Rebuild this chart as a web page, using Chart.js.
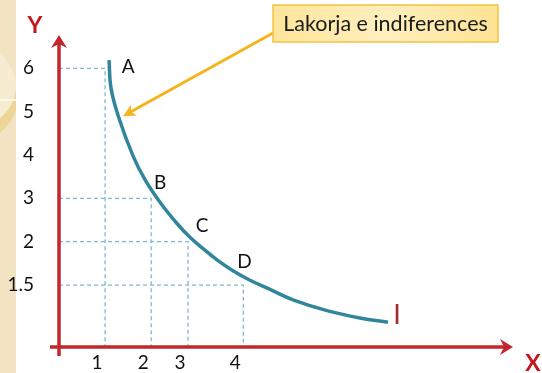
<!DOCTYPE html>
<html>
<head>
<meta charset="utf-8">
<script src="https://cdn.jsdelivr.net/npm/chart.js@4.4.0/dist/chart.umd.min.js"></script>
<style>
  html, body { margin: 0; padding: 0; background: #fff; }
  #wrap { width: 542px; height: 373px; }
</style>
</head>
<body>
<div id="wrap"><canvas id="curveChart"></canvas></div>
<script>
// valeurs (positions sur les axes dessinés)
const xTickLabels = ['1', '2', '3', '4'];
const xTickPos = [1, 2, 2.8, 4];
const yTickLabels = ['6', '5', '4', '3', '2', '1.5'];
const yTickPos = [6, 5, 4, 3, 2, 1];

// points A, B, C, D
const pointNames = ['A', 'B', 'C', 'D'];
const pointX = [1, 2, 2.8, 4];
const pointY = [6, 3, 2, 1];

// courbe d'indifférence I
const curveX = [1.085, 1.128, 1.28, 1.606, 1.866, 2.191, 2.56, 2.842, 3.059, 3.428, 3.775, 4.144, 4.578, 5.077, 5.815, 6.531, 7.138];
const curveY = [6.19, 5.55, 4.92, 3.98, 3.43, 2.91, 2.42, 2.10, 1.90, 1.58, 1.33, 1.11, 0.90, 0.66, 0.41, 0.24, 0.14];

const xMin = 0, xMax = 9.85;
const yMin = -0.43, yMax = 6.77;

const red = '#c1272d';
const teal = '#31869b';
const dashColor = '#7dbccc';

const datasets = [];

// lignes pointillées vers les axes
pointX.forEach(function (px, i) {
    datasets.push({
        data: [{ x: xMin, y: pointY[i] }, { x: px, y: pointY[i] }, { x: px, y: yMin }],
        showLine: true,
        borderColor: dashColor,
        borderWidth: 1.3,
        borderDash: [4, 3],
        pointRadius: 0,
        fill: false,
        clip: false,
    });
});

datasets.push({
    data: curveX.map(function (x, i) { return { x: x, y: curveY[i] }; }),
    showLine: true,
    borderColor: teal,
    borderWidth: 3.5,
    pointRadius: 0,
    tension: 0.4,
    borderCapStyle: 'butt',
    fill: false,
    clip: false,
});

const decorPlugin = {
    id: 'decor',
    beforeDraw: function (chart) {
        const ctx = chart.ctx;
        ctx.save();
        ctx.fillStyle = '#ffffff';
        ctx.fillRect(0, 0, chart.width, chart.height);
        // bande beige à gauche
        ctx.fillStyle = '#f2e4c2';
        ctx.fillRect(0, 0, 16, chart.height);
        ctx.beginPath();
        ctx.rect(0, 0, 16, chart.height);
        ctx.clip();
        ctx.fillStyle = '#ecd596';
        ctx.beginPath();
        ctx.ellipse(-40, 98, 58, 48, 0, 0, Math.PI * 2);
        ctx.fill();
        ctx.fillStyle = '#f6ecd2';
        ctx.beginPath();
        ctx.ellipse(-40, 86, 56, 46, 0, 0, Math.PI * 2);
        ctx.fill();
        ctx.strokeStyle = '#fbf6ea';
        ctx.lineWidth = 2;
        ctx.beginPath();
        ctx.moveTo(0, 100);
        ctx.lineTo(16, 100);
        ctx.stroke();
        ctx.restore();
    },
    afterDatasetsDraw: function (chart) {
        const ctx = chart.ctx;
        const xs = chart.scales.x;
        const ys = chart.scales.y;
        const x0 = xs.getPixelForValue(xMin);
        const y0 = ys.getPixelForValue(yMin);
        const xEnd = xs.getPixelForValue(xMax);
        const yTop = ys.getPixelForValue(yMax);
        ctx.save();

        // axes
        ctx.strokeStyle = red;
        ctx.fillStyle = red;
        ctx.lineWidth = 3.5;
        ctx.beginPath();
        ctx.moveTo(x0, y0 + 9);
        ctx.lineTo(x0, yTop + 6);
        ctx.moveTo(x0 - 9, y0);
        ctx.lineTo(xEnd - 6, y0);
        ctx.stroke();
        ctx.beginPath();
        ctx.moveTo(x0, yTop);
        ctx.lineTo(x0 - 8, yTop + 13);
        ctx.lineTo(x0, yTop + 9);
        ctx.lineTo(x0 + 8, yTop + 13);
        ctx.closePath();
        ctx.fill();
        ctx.beginPath();
        ctx.moveTo(xEnd, y0);
        ctx.lineTo(xEnd - 13, y0 - 8);
        ctx.lineTo(xEnd - 9, y0);
        ctx.lineTo(xEnd - 13, y0 + 8);
        ctx.closePath();
        ctx.fill();

        // étiquettes des graduations
        ctx.fillStyle = '#111111';
        ctx.font = '19px Lato';
        ctx.textBaseline = 'middle';
        ctx.textAlign = 'right';
        yTickPos.forEach(function (v, i) {
            ctx.fillText(yTickLabels[i], 34, ys.getPixelForValue(v));
        });
        ctx.textAlign = 'center';
        xTickPos.forEach(function (v, i) {
            ctx.fillText(xTickLabels[i], xs.getPixelForValue(v) - 8, y0 + 16);
        });

        // titres des axes
        ctx.fillStyle = '#c5161d';
        ctx.font = 'bold 23px Lato';
        ctx.fillText('Y', 35, yTop - 9);
        ctx.fillText('X', 533, y0 + 17);

        // noms des points
        const offsets = [[23, -1], [9, -15], [14, -16], [1, -23]];
        ctx.fillStyle = '#111111';
        ctx.font = '19px Lato';
        pointNames.forEach(function (n, i) {
            ctx.fillText(n, xs.getPixelForValue(pointX[i]) + offsets[i][0],
                ys.getPixelForValue(pointY[i]) + offsets[i][1]);
        });

        // nom de la courbe
        const last = curveX.length - 1;
        ctx.fillStyle = '#a52a2a';
        ctx.font = '27px Lato';
        ctx.fillText('I', xs.getPixelForValue(curveX[last]) + 9, ys.getPixelForValue(curveY[last]) - 7);

        // encadré et flèche
        const tipX = xs.getPixelForValue(curveX[2]) + 5;
        const tipY = ys.getPixelForValue(curveY[2]) + 1;
        const startX = 273, startY = 33;
        ctx.strokeStyle = '#f4b41a';
        ctx.fillStyle = '#f4b41a';
        ctx.lineWidth = 3;
        const ang = Math.atan2(tipY - startY, tipX - startX);
        ctx.beginPath();
        ctx.moveTo(startX, startY);
        ctx.lineTo(tipX - 8 * Math.cos(ang), tipY - 8 * Math.sin(ang));
        ctx.stroke();
        ctx.beginPath();
        ctx.moveTo(tipX, tipY);
        ctx.lineTo(tipX - 14 * Math.cos(ang - 0.45), tipY - 14 * Math.sin(ang - 0.45));
        ctx.lineTo(tipX - 9 * Math.cos(ang), tipY - 9 * Math.sin(ang));
        ctx.lineTo(tipX - 14 * Math.cos(ang + 0.45), tipY - 14 * Math.sin(ang + 0.45));
        ctx.closePath();
        ctx.fill();

        const bx = 273, by = 5, bw = 225, bh = 37;
        const grad = ctx.createLinearGradient(bx, by, bx + bw, by);
        grad.addColorStop(0, '#fde59a');
        grad.addColorStop(0.5, '#ffefbf');
        grad.addColorStop(1, '#fde392');
        ctx.fillStyle = grad;
        ctx.fillRect(bx, by, bw, bh);
        ctx.strokeStyle = '#f5c243';
        ctx.lineWidth = 1.5;
        ctx.strokeRect(bx, by, bw, bh);
        ctx.fillStyle = '#1a1a1a';
        ctx.font = '21.5px Lato';
        ctx.fillText('Lakorja e indiferences', bx + bw / 2, by + bh / 2 + 1);

        ctx.restore();
    }
};

const curveChart = new Chart(document.querySelector('#curveChart'), {
    type: 'scatter',
    data: { datasets: datasets },
    options: {
        responsive: true,
        maintainAspectRatio: false,
        animation: false,
        layout: { padding: { left: 59, right: 29, top: 35, bottom: 26 } },
        scales: {
            x: { type: 'linear', min: xMin, max: xMax, display: false },
            y: { type: 'linear', min: yMin, max: yMax, display: false },
        },
        plugins: {
            legend: { display: false },
            tooltip: { enabled: false },
        },
    },
    plugins: [decorPlugin],
});
</script>
</body>
</html>
